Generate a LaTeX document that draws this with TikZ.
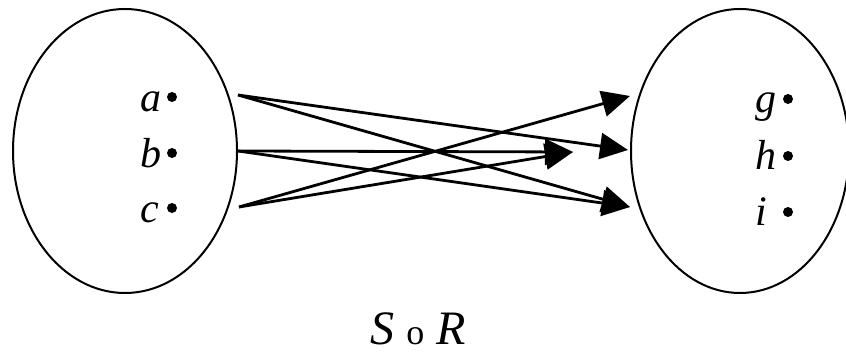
\documentclass[tikz,border=0pt]{standalone}
\usepackage{fontspec}
\setmainfont{Liberation Serif}
\usetikzlibrary{arrows.meta,positioning,shapes.geometric}

\begin{document}
\begin{tikzpicture}[x=0.5pt,y=-0.5pt,
    set/.style={draw,ellipse,line width=1pt,minimum height=142pt,inner sep=0pt},
    pt/.style={circle,fill,inner sep=0pt,minimum size=5pt},
    elem/.style={font=\fontsize{21}{24}\selectfont\itshape,inner sep=0pt,anchor=base west},
    map/.style={-{Triangle[length=14pt,width=13pt]},line width=1.4pt}]
  \useasboundingbox (0,0) rectangle (846,356);
  \node[set,minimum width=112pt] (X) at (125,151) {};
  \node[set,minimum width=109pt] (Y) at (740,151) {};
  % elements
  \foreach \n/\y in {a/97,b/153,c/208}{
    \node[pt] (p\n) at (172,\y) {};
    \node[elem] (l\n) at (140,\y+15) {\n};
  }
  \foreach \n/\y in {g/99,h/156,i/212}{
    \node[pt] (p\n) at (788,\y) {};
    \node[elem] (l\n) at (755,\y+14) {\n};
  }
  % arrow ends
  \coordinate (oa) at (238,95);
  \coordinate (ob) at (238,151);
  \coordinate (oc) at (239,207);
  \coordinate (tg) at (630,96);
  \coordinate (th) at (628,150);
  \coordinate (ti) at (630,207);
  \coordinate (tm) at (573,152);
  \foreach \s/\t in {oa/th,oa/ti,ob/tm,ob/ti,oc/tg,oc/tm}
    \draw[map] (\s) -- (\t);
  \node[font=\fontsize{24}{28}\selectfont,anchor=base] (cap) at (418,345)
    {\textit{S} {\fontsize{18}{20}\selectfont o} \textit{R}};
\end{tikzpicture}
\end{document}
